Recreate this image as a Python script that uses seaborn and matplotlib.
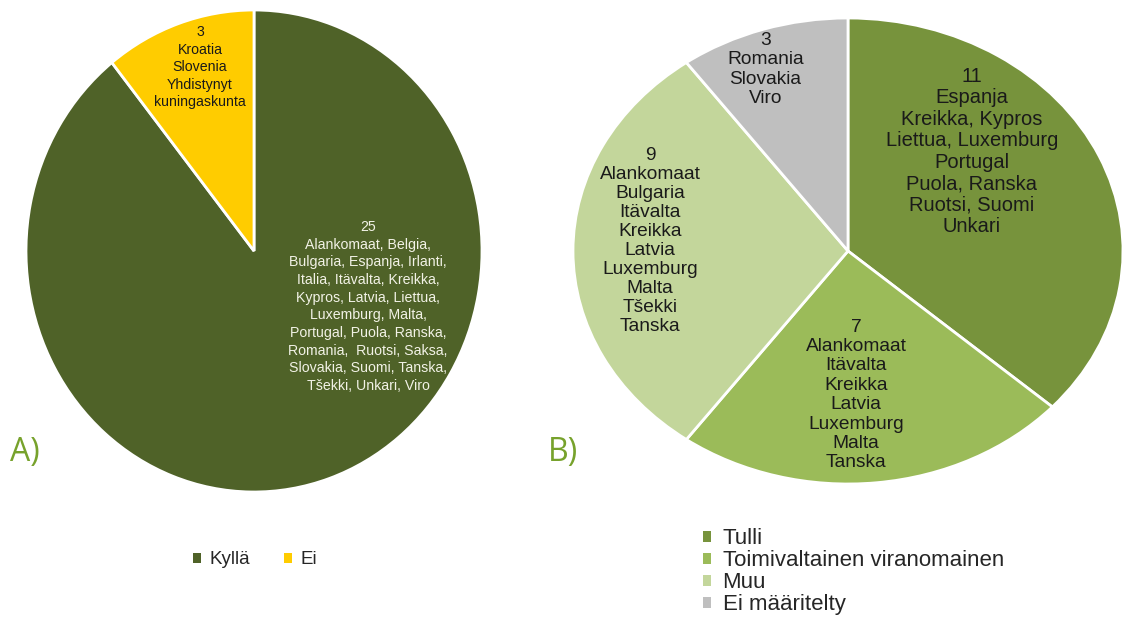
import matplotlib
matplotlib.use("Agg")
import matplotlib.pyplot as plt
from matplotlib.patches import Patch
import seaborn as sns

# ---- data ----
a_categories = ["Kyllä", "Ei"]
a_values = [25, 3]
a_texts = [
    "25\nAlankomaat, Belgia,\nBulgaria, Espanja, Irlanti,\nItalia, Itävalta, Kreikka,\nKypros, Latvia, Liettua,\n"
    "Luxemburg, Malta,\nPortugal, Puola, Ranska,\nRomania,  Ruotsi, Saksa,\nSlovakia, Suomi, Tanska,\nTšekki, Unkari, Viro",
    "3\nKroatia\nSlovenia\nYhdistynyt\nkuningaskunta",
]
b_categories = ["Tulli", "Toimivaltainen viranomainen", "Muu", "Ei määritelty"]
b_values = [11, 7, 9, 3]
b_texts = [
    "11\nEspanja\nKreikka, Kypros\nLiettua, Luxemburg\nPortugal\nPuola, Ranska\nRuotsi, Suomi\nUnkari",
    "7\nAlankomaat\nItävalta\nKreikka\nLatvia\nLuxemburg\nMalta\nTanska",
    "9\nAlankomaat\nBulgaria\nItävalta\nKreikka\nLatvia\nLuxemburg\nMalta\nTšekki\nTanska",
    "3\nRomania\nSlovakia\nViro",
]

# ---- style ----
sns.set_theme(style="white")
plt.rcParams["font.family"] = ["Liberation Sans", "DejaVu Sans"]

a_colors = ["#4F6228", "#FFCC00"]
b_colors = ["#77933C", "#9BBB59", "#C3D69B", "#BFBFBF"]

W, H = 1123, 619
fig = plt.figure(figsize=(W / 100, H / 100), dpi=100)


def px_axes(x0, y0, x1, y1):
    return fig.add_axes([x0 / W, (H - y1) / H, (x1 - x0) / W, (y1 - y0) / H])


# ---- pie A ----
axA = px_axes(26, 10, 482, 492)
axA.pie(a_values, colors=a_colors, startangle=90, counterclock=False,
        wedgeprops=dict(edgecolor="white", linewidth=2))
axA.set_aspect("auto")
axA.set_xlim(-1, 1)
axA.set_ylim(-1, 1)
axA.axis("off")
a_pos = [(0.50, -0.230), (-0.237, 0.763)]
a_tcol = ["#F2F2E6", "#1a1a1a"]
a_ls = [1.33, 1.31]
for t, (x, y), c, ls in zip(a_texts, a_pos, a_tcol, a_ls):
    axA.text(x, y, t, ha="center", va="center", fontsize=10.2, color=c,
             linespacing=ls)

# ---- pie B ----
axB = px_axes(573, 18, 1123, 484)
axB.pie(b_values, colors=b_colors, startangle=90, counterclock=False,
        wedgeprops=dict(edgecolor="white", linewidth=2))
axB.set_aspect("auto")
axB.set_xlim(-1, 1)
axB.set_ylim(-1, 1)
axB.axis("off")
b_pos = [(0.45, 0.427), (0.03, -0.618), (-0.72, 0.043), (-0.30, 0.779)]
b_fs = [14.5, 13.8, 13.8, 13.8]
b_ls = [1.17, 1.18, 1.15, 1.20]
for t, (x, y), fs, ls in zip(b_texts, b_pos, b_fs, b_ls):
    axB.text(x, y, t, ha="center", va="center", fontsize=fs, color="#1a1a1a",
             linespacing=ls)

# ---- panel letters ----
fig.text(10 / W, 1 - 453 / H, "A)", fontsize=23, color="#77A22C", va="center",
         family=["Open Sans", "DejaVu Sans"])
fig.text(548 / W, 1 - 453 / H, "B)", fontsize=23, color="#77A22C", va="center",
         family=["Open Sans", "DejaVu Sans"])

# ---- legends ----
hA = [Patch(facecolor=c, edgecolor="none") for c in a_colors]
fig.legend(hA, a_categories, loc="center", bbox_to_anchor=(255 / W, 1 - 560 / H),
           ncol=2, frameon=False, fontsize=13.5, handlelength=0.42, handleheight=0.42,
           handletextpad=0.45, columnspacing=1.8)

hB = [Patch(facecolor=c, edgecolor="none") for c in b_colors]
fig.legend(hB, b_categories, loc="upper left", bbox_to_anchor=(703 / W, 1 - 528 / H),
           ncol=1, frameon=False, fontsize=16, handlelength=0.38, handleheight=0.38,
           handletextpad=0.5, labelspacing=0.05, borderaxespad=0, borderpad=0)

fig.savefig("out.png", dpi=100, facecolor="white")
